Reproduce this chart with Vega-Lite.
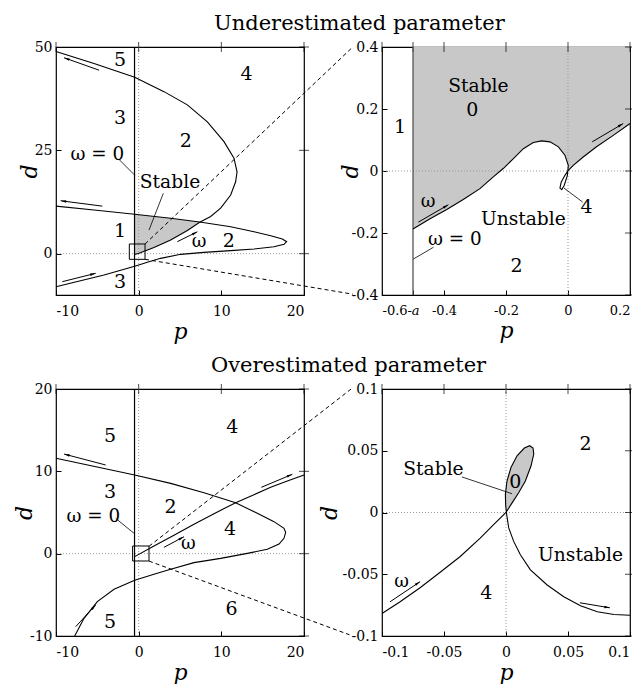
{
 "$schema": "https://vega.github.io/schema/vega-lite/v6.json",
 "background": "white",
 "padding": {"left": 12, "top": 12, "right": 0, "bottom": 0},
 "config": {
  "font": "DejaVu Serif",
  "view": {"stroke": "black", "strokeWidth": 1.2},
  "axis": {"domain": false, "grid": false, "ticks": true, "tickSize": -5, "tickColor": "black", "tickWidth": 1,
           "labelFont": "DejaVu Serif", "labelFontSize": 14, "labelColor": "black", "labelOverlap": false, "labelBound": false,
           "titleFont": "DejaVu Serif", "titleFontStyle": "italic", "titleFontWeight": "normal", "titleFontSize": 22, "titleColor": "black"},
  "axisX": {"labelPadding": 14, "titlePadding": 3},
  "axisY": {"labelPadding": 9, "titlePadding": -7},
  "tick": {"thickness": 1, "size": 10, "color": "black", "clip": true},
  "title": {"font": "DejaVu Serif", "fontSize": 21, "fontWeight": "normal", "color": "black"}
 },
 "datasets": {
  "zero": [{"v": 0}],
  "wz": [{"v": -0.5}],
  "kx1": [{"v": -10}, {"v": 0}, {"v": 10}, {"v": 20}],
  "ky1": [{"v": 0}, {"v": 25}, {"v": 50}],
  "kx2": [{"v": -0.6}, {"v": -0.5}, {"v": -0.4}, {"v": -0.2}, {"v": 0}, {"v": 0.2}],
  "ky2": [{"v": -0.4}, {"v": -0.2}, {"v": 0}, {"v": 0.2}, {"v": 0.4}],
  "ky3": [{"v": -10}, {"v": 0}, {"v": 10}, {"v": 20}],
  "k4": [{"v": -0.1}, {"v": -0.05}, {"v": 0}, {"v": 0.05}, {"v": 0.1}],
  "c1": [
   {"k":"A","i":0,"p":-0.5,"d":-0.2},{"k":"A","i":1,"p":0.04,"d":0.08},{"k":"A","i":2,"p":1.85,"d":1.5},{"k":"A","i":3,"p":3.87,"d":3.3},{"k":"A","i":4,"p":5.89,"d":5.6},{"k":"A","i":5,"p":7.38,"d":7.6},{"k":"A","i":6,"p":8.71,"d":9.0},{"k":"A","i":7,"p":9.92,"d":11.0},{"k":"A","i":8,"p":11.13,"d":14.2},{"k":"A","i":9,"p":11.73,"d":17.4},{"k":"A","i":10,"p":11.9,"d":19.8},{"k":"A","i":11,"p":11.53,"d":23.1},{"k":"A","i":12,"p":10.32,"d":27.1},{"k":"A","i":13,"p":8.31,"d":31.9},{"k":"A","i":14,"p":5.89,"d":36.0},{"k":"A","i":15,"p":3.06,"d":39.2},{"k":"A","i":16,"p":-0.48,"d":42.7},{"k":"A","i":17,"p":-5.4,"d":46.0},{"k":"A","i":18,"p":-10,"d":48.9},
   {"k":"B","i":0,"p":-10,"d":11.5},{"k":"B","i":1,"p":-5.4,"d":10.56},{"k":"B","i":2,"p":-0.48,"d":9.52},{"k":"B","i":3,"p":3.87,"d":8.55},{"k":"B","i":4,"p":7.38,"d":7.66},{"k":"B","i":5,"p":11.13,"d":6.53},{"k":"B","i":6,"p":13.95,"d":5.32},{"k":"B","i":7,"p":15.97,"d":4.35},{"k":"B","i":8,"p":17.38,"d":3.55},{"k":"B","i":9,"p":17.9,"d":2.9},{"k":"B","i":10,"p":17.58,"d":2.26},{"k":"B","i":11,"p":16.37,"d":1.69},{"k":"B","i":12,"p":13.95,"d":1.13},{"k":"B","i":13,"p":11.13,"d":0.73},{"k":"B","i":14,"p":7.9,"d":0.32},{"k":"B","i":15,"p":5.08,"d":-0.16},{"k":"B","i":16,"p":2.66,"d":-1.13},{"k":"B","i":17,"p":1.05,"d":-2.1},{"k":"B","i":18,"p":-0.48,"d":-3.06},{"k":"B","i":19,"p":-4.19,"d":-5.16},{"k":"B","i":20,"p":-10,"d":-8.0}
  ],
  "sh1": [{"p":-0.5,"d":-0.2,"d2":9.52},{"p":0.04,"d":0.08,"d2":9.40},{"p":1.85,"d":1.5,"d2":8.99},{"p":3.87,"d":3.3,"d2":8.55},{"p":5.89,"d":5.6,"d2":8.04},{"p":7.38,"d":7.6,"d2":7.66}],
  "dash1": [{"k":"u","p":0.77,"d":2.34},{"k":"u","p":25.9,"d":50},{"k":"l","p":0.77,"d":-1.37},{"k":"l","p":25.9,"d":-9.8}],
  "sq1": [{"p":-1.13,"p2":0.77,"d":-1.37,"d2":2.34}],
  "ar1": [{"id":1,"p":-4.8,"d":44.4,"p2":-9.03,"d2":47.4},{"id":2,"p":-4.4,"d":11.5,"p2":-9.44,"d2":12.8},{"id":3,"p":-9.23,"d":-6.77,"p2":-5.2,"d2":-4.76},{"id":4,"p":4.68,"d":2.9,"p2":7.1,"d2":5.3}],
  "ld1": [{"p":-2.38,"d":22.8,"p2":-0.48,"d2":19.0},{"p":2.98,"d":14.6,"p2":1.25,"d2":5.7}],
  "tx1": [{"t":"5","kind":"num","p":-2.26,"d":46.9},{"t":"4","kind":"num","p":13.06,"d":43.4},{"t":"3","kind":"num","p":-2.26,"d":32.9},{"t":"2","kind":"num","p":5.69,"d":27.3},{"t":"ω = 0","kind":"small","p":-5.0,"d":23.9},{"t":"Stable","kind":"word","p":3.79,"d":17.4},{"t":"1","kind":"num","p":-2.26,"d":5.5},{"t":"ω","kind":"omega","p":7.3,"d":2.9},{"t":"2","kind":"num","p":10.9,"d":3.06},{"t":"3","kind":"num","p":-2.26,"d":-6.9}],
  "c2": [
   {"i":0,"p":-0.5,"d":-0.187},{"i":1,"p":-0.445,"d":-0.154},{"i":2,"p":-0.391,"d":-0.124},{"i":3,"p":-0.338,"d":-0.092},{"i":4,"p":-0.284,"d":-0.057},{"i":5,"p":-0.241,"d":-0.019},{"i":6,"p":-0.209,"d":0.008},{"i":7,"p":-0.176,"d":0.040},{"i":8,"p":-0.144,"d":0.072},{"i":9,"p":-0.112,"d":0.092},{"i":10,"p":-0.085,"d":0.097},{"i":11,"p":-0.058,"d":0.094},{"i":12,"p":-0.031,"d":0.078},{"i":13,"p":-0.010,"d":0.051},{"i":14,"p":0.001,"d":0.018},{"i":15,"p":-0.002,"d":-0.014},{"i":16,"p":-0.012,"d":-0.046},{"i":17,"p":-0.020,"d":-0.060},{"i":18,"p":-0.026,"d":-0.055},{"i":19,"p":-0.022,"d":-0.036},{"i":20,"p":-0.010,"d":-0.014},{"i":21,"p":0.001,"d":0.002},{"i":22,"p":0.017,"d":0.018},{"i":23,"p":0.049,"d":0.045},{"i":24,"p":0.092,"d":0.078},{"i":25,"p":0.146,"d":0.115},{"i":26,"p":0.2,"d":0.153}
  ],
  "sh2": [{"p":-0.5,"d":-0.187},{"p":-0.445,"d":-0.154},{"p":-0.391,"d":-0.124},{"p":-0.338,"d":-0.092},{"p":-0.284,"d":-0.057},{"p":-0.241,"d":-0.019},{"p":-0.209,"d":0.008},{"p":-0.176,"d":0.040},{"p":-0.144,"d":0.072},{"p":-0.112,"d":0.092},{"p":-0.085,"d":0.097},{"p":-0.058,"d":0.094},{"p":-0.031,"d":0.078},{"p":-0.010,"d":0.051},{"p":0.001,"d":0.018},{"p":0.002,"d":0.003},{"p":0.017,"d":0.018},{"p":0.049,"d":0.045},{"p":0.092,"d":0.078},{"p":0.146,"d":0.115},{"p":0.2,"d":0.153}],
  "ar2": [{"id":1,"p":-0.483,"d":-0.165,"p2":-0.386,"d2":-0.109},{"id":2,"p":0.078,"d":0.094,"p2":0.178,"d2":0.153}],
  "ld2": [{"p":-0.013,"d":-0.055,"p2":0.047,"d2":-0.100},{"p":-0.499,"d":-0.284,"p2":-0.434,"d2":-0.246}],
  "tx2": [{"t":"Stable","kind":"word","p":-0.289,"d":0.275},{"t":"0","kind":"num","p":-0.309,"d":0.196},{"t":"1","kind":"num","p":-0.542,"d":0.142},{"t":"ω","kind":"omega","p":-0.451,"d":-0.100},{"t":"Unstable","kind":"word","p":-0.144,"d":-0.154},{"t":"4","kind":"num","p":0.060,"d":-0.116},{"t":"ω = 0","kind":"small","p":-0.365,"d":-0.224},{"t":"2","kind":"num","p":-0.166,"d":-0.307}],
  "c3": [
   {"k":"C","i":0,"p":-10,"d":11.58},{"k":"C","i":1,"p":-0.48,"d":9.55},{"k":"C","i":2,"p":3.87,"d":8.54},{"k":"C","i":3,"p":7.9,"d":7.41},{"k":"C","i":4,"p":11.73,"d":6.19},{"k":"C","i":5,"p":14.35,"d":4.9},{"k":"C","i":6,"p":16.37,"d":3.89},{"k":"C","i":7,"p":17.58,"d":3.08},{"k":"C","i":8,"p":17.78,"d":2.59},{"k":"C","i":9,"p":17.58,"d":1.86},{"k":"C","i":10,"p":16.98,"d":1.17},{"k":"C","i":11,"p":15.56,"d":0.53},{"k":"C","i":12,"p":13.15,"d":0.04},{"k":"C","i":13,"p":9.92,"d":-0.57},{"k":"C","i":14,"p":6.69,"d":-1.09},{"k":"C","i":15,"p":3.87,"d":-1.9},{"k":"C","i":16,"p":1.85,"d":-2.5},{"k":"C","i":17,"p":-0.48,"d":-3.24},{"k":"C","i":18,"p":-2.98,"d":-4.33},{"k":"C","i":19,"p":-5.0,"d":-5.83},{"k":"C","i":20,"p":-6.61,"d":-7.85},{"k":"C","i":21,"p":-7.74,"d":-10.0},
   {"k":"D","i":0,"p":-0.48,"d":-0.36},{"k":"D","i":1,"p":1.85,"d":0.93},{"k":"D","i":2,"p":4.27,"d":2.23},{"k":"D","i":3,"p":6.69,"d":3.56},{"k":"D","i":4,"p":9.11,"d":4.86},{"k":"D","i":5,"p":11.73,"d":6.19},{"k":"D","i":6,"p":13.95,"d":7.17},{"k":"D","i":7,"p":15.97,"d":8.06},{"k":"D","i":8,"p":17.98,"d":8.83},{"k":"D","i":9,"p":20,"d":9.55}
  ],
  "dash3": [{"k":"u","p":1.25,"d":0.9},{"k":"u","p":25.7,"d":20},{"k":"l","p":1.25,"d":-0.9},{"k":"l","p":25.5,"d":-9.85}],
  "sq3": [{"p":-0.73,"p2":1.25,"d":-0.89,"d2":0.93}],
  "ar3": [{"id":1,"p":-3.99,"d":10.77,"p2":-9.03,"d2":12.1},{"id":2,"p":14.84,"d":8.06,"p2":18.59,"d2":9.64},{"id":3,"p":-7.62,"d":-8.87,"p2":-5.2,"d2":-6.23},{"id":4,"p":3.06,"d":0.77,"p2":5.48,"d2":2.06}],
  "ld3": [{"p":-2.78,"d":4.29,"p2":-0.56,"d2":2.47}],
  "tx3": [{"t":"5","kind":"num","p":-3.47,"d":14.3},{"t":"4","kind":"num","p":11.33,"d":15.34},{"t":"3","kind":"num","p":-3.47,"d":7.53},{"t":"2","kind":"num","p":3.87,"d":5.63},{"t":"ω = 0","kind":"small","p":-5.48,"d":4.49},{"t":"4","kind":"num","p":11.05,"d":2.96},{"t":"ω","kind":"omega","p":6.0,"d":1.17},{"t":"6","kind":"num","p":11.25,"d":-6.76},{"t":"5","kind":"num","p":-3.47,"d":-8.26}],
  "c4": [
   {"i":0,"p":-0.1,"d":-0.0818},{"i":1,"p":-0.0854,"d":-0.0723},{"i":2,"p":-0.0693,"d":-0.0609},{"i":3,"p":-0.0531,"d":-0.0484},{"i":4,"p":-0.0369,"d":-0.0356},{"i":5,"p":-0.0208,"d":-0.0207},{"i":6,"p":-0.01,"d":-0.0098},{"i":7,"p":0,"d":0},{"i":8,"p":0.0049,"d":0.0078},{"i":9,"p":0.0102,"d":0.016},{"i":10,"p":0.0156,"d":0.0255},{"i":11,"p":0.0202,"d":0.0378},{"i":12,"p":0.0224,"d":0.0473},{"i":13,"p":0.0218,"d":0.0522},{"i":14,"p":0.0191,"d":0.0541},{"i":15,"p":0.0148,"d":0.0522},{"i":16,"p":0.0089,"d":0.0459},{"i":17,"p":0.004,"d":0.0364},{"i":18,"p":0.0008,"d":0.0255},{"i":19,"p":-0.0005,"d":0.0147},{"i":20,"p":-0.0003,"d":0.0065},{"i":21,"p":0.0003,"d":0},{"i":22,"p":0.0022,"d":-0.0125},{"i":23,"p":0.0062,"d":-0.0234},{"i":24,"p":0.0116,"d":-0.0342},{"i":25,"p":0.0197,"d":-0.0465},{"i":26,"p":0.0332,"d":-0.0587},{"i":27,"p":0.0466,"d":-0.0682},{"i":28,"p":0.0601,"d":-0.0755},{"i":29,"p":0.0736,"d":-0.0804},{"i":30,"p":0.0871,"d":-0.0826},{"i":31,"p":0.1,"d":-0.0832}
  ],
  "sh4": [{"d":0,"p":0,"p2":0},{"d":0.0065,"p":-0.0003,"p2":0.004},{"d":0.0147,"p":-0.0005,"p2":0.0095},{"d":0.0255,"p":0.0008,"p2":0.0156},{"d":0.0364,"p":0.004,"p2":0.0198},{"d":0.0459,"p":0.0089,"p2":0.0222},{"d":0.0522,"p":0.0148,"p2":0.0218},{"d":0.0541,"p":0.0191,"p2":0.0191}],
  "ar4": [{"id":1,"p":-0.0935,"d":-0.0723,"p2":-0.0693,"d2":-0.056},{"id":2,"p":0.0596,"d":-0.0731,"p2":0.0838,"d2":-0.0772}],
  "ld4": [{"p":-0.0356,"d":0.0288,"p2":0.0049,"d2":0.0152}],
  "tx4": [{"t":"2","kind":"num","p":0.0641,"d":0.0554},{"t":"Stable","kind":"word","p":-0.0585,"d":0.0351},{"t":"0","kind":"num","p":0.0075,"d":0.025},{"t":"Unstable","kind":"word","p":0.0601,"d":-0.0342},{"t":"4","kind":"num","p":-0.0159,"d":-0.0655},{"t":"ω","kind":"omega","p":-0.0841,"d":-0.0565}]
 },
 "bounds": "flush",
 "columns": 2,
 "spacing": {"row": 94, "column": 78},
 "concat": [
   {"width": 248, "height": 248,
    "title": {"text": "Underestimated parameter", "anchor": "start", "frame": "group", "dx": 158, "offset": -11, "baseline": "alphabetic"},
    "layer": [
     {"data": {"name": "sh1"}, "mark": {"type": "area", "color": "#c8c8c8"},
      "encoding": {"x": {"field": "p", "type": "quantitative", "scale": {"domain": [-10, 20], "nice": false, "zero": false}, "axis": {"values": [-10, 0, 10, 20], "title": "p", "labelExpr": "toString(datum.value)"}},
                   "y": {"field": "d", "type": "quantitative", "scale": {"domain": [-10, 50], "nice": false, "zero": false}, "axis": {"values": [0, 25, 50], "title": "d", "labelExpr": "toString(datum.value)"}},
                   "y2": {"field": "d2"}}},
     {"data": {"name": "zero"}, "mark": {"type": "rule", "color": "#999999", "strokeDash": [1, 2], "strokeWidth": 1}, "encoding": {"x": {"field": "v", "type": "quantitative", "scale": {"domain": [-10, 20], "nice": false, "zero": false}}}},
     {"data": {"name": "zero"}, "mark": {"type": "rule", "color": "#999999", "strokeDash": [1, 2], "strokeWidth": 1}, "encoding": {"y": {"field": "v", "type": "quantitative", "scale": {"domain": [-10, 50], "nice": false, "zero": false}}}},
     {"data": {"name": "kx1"}, "mark": {"type": "tick", "orient": "vertical"}, "encoding": {"x": {"field": "v", "type": "quantitative", "scale": {"domain": [-10, 20], "nice": false, "zero": false}}, "y": {"datum": 50, "type": "quantitative", "scale": {"domain": [-10, 50], "nice": false, "zero": false}}}},
     {"data": {"name": "ky1"}, "mark": {"type": "tick", "orient": "horizontal"}, "encoding": {"y": {"field": "v", "type": "quantitative", "scale": {"domain": [-10, 50], "nice": false, "zero": false}}, "x": {"datum": 20, "type": "quantitative", "scale": {"domain": [-10, 20], "nice": false, "zero": false}}}},
     {"data": {"name": "wz"}, "mark": {"type": "rule", "color": "black", "strokeWidth": 1.2}, "encoding": {"x": {"field": "v", "type": "quantitative", "scale": {"domain": [-10, 20], "nice": false, "zero": false}}}},
     {"data": {"name": "c1"}, "mark": {"type": "line", "color": "black", "strokeWidth": 1.1},
      "encoding": {"x": {"field": "p", "type": "quantitative", "scale": {"domain": [-10, 20], "nice": false, "zero": false}}, "y": {"field": "d", "type": "quantitative", "scale": {"domain": [-10, 50], "nice": false, "zero": false}}, "detail": {"field": "k"}, "order": {"field": "i", "type": "quantitative"}}},
     {"data": {"name": "dash1"}, "mark": {"type": "line", "color": "black", "strokeWidth": 1, "strokeDash": [4, 3], "clip": false},
      "encoding": {"x": {"field": "p", "type": "quantitative", "scale": {"domain": [-10, 20], "nice": false, "zero": false}}, "y": {"field": "d", "type": "quantitative", "scale": {"domain": [-10, 50], "nice": false, "zero": false}}, "detail": {"field": "k"}}},
     {"data": {"name": "sq1"}, "mark": {"type": "rect", "fill": null, "fillOpacity": 0, "stroke": "black", "strokeWidth": 1},
      "encoding": {"x": {"field": "p", "type": "quantitative", "scale": {"domain": [-10, 20], "nice": false, "zero": false}}, "x2": {"field": "p2"}, "y": {"field": "d", "type": "quantitative", "scale": {"domain": [-10, 50], "nice": false, "zero": false}}, "y2": {"field": "d2"}}},
     {"data": {"name": "ar1"}, "mark": {"type": "rule", "color": "black", "strokeWidth": 1},
      "encoding": {"x": {"field": "p", "type": "quantitative", "scale": {"domain": [-10, 20], "nice": false, "zero": false}}, "x2": {"field": "p2"}, "y": {"field": "d", "type": "quantitative", "scale": {"domain": [-10, 50], "nice": false, "zero": false}}, "y2": {"field": "d2"}}},
     {"data": {"name": "ld1"}, "mark": {"type": "rule", "color": "black", "strokeWidth": 0.8},
      "encoding": {"x": {"field": "p", "type": "quantitative", "scale": {"domain": [-10, 20], "nice": false, "zero": false}}, "x2": {"field": "p2"}, "y": {"field": "d", "type": "quantitative", "scale": {"domain": [-10, 50], "nice": false, "zero": false}}, "y2": {"field": "d2"}}},
     {"data": {"name": "ar1"}, "transform": [{"filter": "datum.id == 1"}], "mark": {"type": "point", "shape": "M0,0L0.35,1.6L-0.35,1.6Z", "filled": true, "color": "black", "opacity": 1, "size": 49, "angle": -70.6},
      "encoding": {"x": {"field": "p2", "type": "quantitative", "scale": {"domain": [-10, 20], "nice": false, "zero": false}}, "y": {"field": "d2", "type": "quantitative", "scale": {"domain": [-10, 50], "nice": false, "zero": false}}}},
     {"data": {"name": "ar1"}, "transform": [{"filter": "datum.id == 2"}], "mark": {"type": "point", "shape": "M0,0L0.35,1.6L-0.35,1.6Z", "filled": true, "color": "black", "opacity": 1, "size": 49, "angle": -82.7},
      "encoding": {"x": {"field": "p2", "type": "quantitative", "scale": {"domain": [-10, 20], "nice": false, "zero": false}}, "y": {"field": "d2", "type": "quantitative", "scale": {"domain": [-10, 50], "nice": false, "zero": false}}}},
     {"data": {"name": "ar1"}, "transform": [{"filter": "datum.id == 3"}], "mark": {"type": "point", "shape": "M0,0L0.35,1.6L-0.35,1.6Z", "filled": true, "color": "black", "opacity": 1, "size": 49, "angle": 76},
      "encoding": {"x": {"field": "p2", "type": "quantitative", "scale": {"domain": [-10, 20], "nice": false, "zero": false}}, "y": {"field": "d2", "type": "quantitative", "scale": {"domain": [-10, 50], "nice": false, "zero": false}}}},
     {"data": {"name": "ar1"}, "transform": [{"filter": "datum.id == 4"}], "mark": {"type": "point", "shape": "M0,0L0.35,1.6L-0.35,1.6Z", "filled": true, "color": "black", "opacity": 1, "size": 49, "angle": 61.9},
      "encoding": {"x": {"field": "p2", "type": "quantitative", "scale": {"domain": [-10, 20], "nice": false, "zero": false}}, "y": {"field": "d2", "type": "quantitative", "scale": {"domain": [-10, 50], "nice": false, "zero": false}}}},
     {"data": {"name": "tx1"}, "mark": {"type": "text", "color": "black", "align": "center", "baseline": "middle"},
      "encoding": {"x": {"field": "p", "type": "quantitative", "scale": {"domain": [-10, 20], "nice": false, "zero": false}}, "y": {"field": "d", "type": "quantitative", "scale": {"domain": [-10, 50], "nice": false, "zero": false}}, "text": {"field": "t"},
                   "size": {"field": "kind", "type": "nominal", "scale": {"domain": ["num", "word", "small", "omega"], "range": [19, 18, 15, 17]}, "legend": null}}}
    ]},
   {"width": 248, "height": 248,
    "layer": [
     {"data": {"name": "sh2"}, "mark": {"type": "area", "color": "#c8c8c8"},
      "encoding": {"x": {"field": "p", "type": "quantitative", "scale": {"domain": [-0.6, 0.2], "nice": false, "zero": false}, "axis": {"values": [-0.6, -0.5, -0.4, -0.2, 0, 0.2], "title": "p", "labelFontSize": 13, "labelExpr": "datum.value == -0.5 ? '-a' : toString(datum.value)", "labelFontStyle": {"condition": {"test": "datum.value == -0.5", "value": "italic"}, "value": "normal"}}},
                   "y": {"field": "d", "type": "quantitative", "scale": {"domain": [-0.4, 0.4], "nice": false, "zero": false}, "axis": {"values": [-0.4, -0.2, 0, 0.2, 0.4], "title": "d", "titlePadding": -11, "labelExpr": "toString(datum.value)"}},
                   "y2": {"datum": 0.4}}},
     {"data": {"name": "zero"}, "mark": {"type": "rule", "color": "#999999", "strokeDash": [1, 2], "strokeWidth": 1}, "encoding": {"x": {"field": "v", "type": "quantitative", "scale": {"domain": [-0.6, 0.2], "nice": false, "zero": false}}}},
     {"data": {"name": "zero"}, "mark": {"type": "rule", "color": "#999999", "strokeDash": [1, 2], "strokeWidth": 1}, "encoding": {"y": {"field": "v", "type": "quantitative", "scale": {"domain": [-0.4, 0.4], "nice": false, "zero": false}}}},
     {"data": {"name": "kx2"}, "mark": {"type": "tick", "orient": "vertical"}, "encoding": {"x": {"field": "v", "type": "quantitative", "scale": {"domain": [-0.6, 0.2], "nice": false, "zero": false}}, "y": {"datum": 0.4, "type": "quantitative", "scale": {"domain": [-0.4, 0.4], "nice": false, "zero": false}}}},
     {"data": {"name": "ky2"}, "mark": {"type": "tick", "orient": "horizontal"}, "encoding": {"y": {"field": "v", "type": "quantitative", "scale": {"domain": [-0.4, 0.4], "nice": false, "zero": false}}, "x": {"datum": 0.2, "type": "quantitative", "scale": {"domain": [-0.6, 0.2], "nice": false, "zero": false}}}},
     {"data": {"name": "wz"}, "mark": {"type": "rule", "color": "#555555", "strokeWidth": 1.3}, "encoding": {"x": {"field": "v", "type": "quantitative", "scale": {"domain": [-0.6, 0.2], "nice": false, "zero": false}}}},
     {"data": {"name": "c2"}, "mark": {"type": "line", "color": "black", "strokeWidth": 1.1},
      "encoding": {"x": {"field": "p", "type": "quantitative", "scale": {"domain": [-0.6, 0.2], "nice": false, "zero": false}}, "y": {"field": "d", "type": "quantitative", "scale": {"domain": [-0.4, 0.4], "nice": false, "zero": false}}, "order": {"field": "i", "type": "quantitative"}}},
     {"data": {"name": "ar2"}, "mark": {"type": "rule", "color": "black", "strokeWidth": 1},
      "encoding": {"x": {"field": "p", "type": "quantitative", "scale": {"domain": [-0.6, 0.2], "nice": false, "zero": false}}, "x2": {"field": "p2"}, "y": {"field": "d", "type": "quantitative", "scale": {"domain": [-0.4, 0.4], "nice": false, "zero": false}}, "y2": {"field": "d2"}}},
     {"data": {"name": "ld2"}, "mark": {"type": "rule", "color": "black", "strokeWidth": 0.8},
      "encoding": {"x": {"field": "p", "type": "quantitative", "scale": {"domain": [-0.6, 0.2], "nice": false, "zero": false}}, "x2": {"field": "p2"}, "y": {"field": "d", "type": "quantitative", "scale": {"domain": [-0.4, 0.4], "nice": false, "zero": false}}, "y2": {"field": "d2"}}},
     {"data": {"name": "ar2"}, "transform": [{"filter": "datum.id == 1"}], "mark": {"type": "point", "shape": "M0,0L0.35,1.6L-0.35,1.6Z", "filled": true, "color": "black", "opacity": 1, "size": 49, "angle": 60},
      "encoding": {"x": {"field": "p2", "type": "quantitative", "scale": {"domain": [-0.6, 0.2], "nice": false, "zero": false}}, "y": {"field": "d2", "type": "quantitative", "scale": {"domain": [-0.4, 0.4], "nice": false, "zero": false}}}},
     {"data": {"name": "ar2"}, "transform": [{"filter": "datum.id == 2"}], "mark": {"type": "point", "shape": "M0,0L0.35,1.6L-0.35,1.6Z", "filled": true, "color": "black", "opacity": 1, "size": 49, "angle": 59.4},
      "encoding": {"x": {"field": "p2", "type": "quantitative", "scale": {"domain": [-0.6, 0.2], "nice": false, "zero": false}}, "y": {"field": "d2", "type": "quantitative", "scale": {"domain": [-0.4, 0.4], "nice": false, "zero": false}}}},
     {"data": {"name": "tx2"}, "mark": {"type": "text", "color": "black", "align": "center", "baseline": "middle"},
      "encoding": {"x": {"field": "p", "type": "quantitative", "scale": {"domain": [-0.6, 0.2], "nice": false, "zero": false}}, "y": {"field": "d", "type": "quantitative", "scale": {"domain": [-0.4, 0.4], "nice": false, "zero": false}}, "text": {"field": "t"},
                   "size": {"field": "kind", "type": "nominal", "scale": {"domain": ["num", "word", "small", "omega"], "range": [19, 18, 15, 17]}, "legend": null}}}
    ]},
   {"width": 248, "height": 247,
    "title": {"text": "Overestimated parameter", "anchor": "start", "frame": "group", "dx": 155, "offset": -11, "baseline": "alphabetic"},
    "layer": [
     {"data": {"name": "zero"}, "mark": {"type": "rule", "color": "#999999", "strokeDash": [1, 2], "strokeWidth": 1},
      "encoding": {"x": {"field": "v", "type": "quantitative", "scale": {"domain": [-10, 20], "nice": false, "zero": false}, "axis": {"values": [-10, 0, 10, 20], "title": "p", "labelExpr": "toString(datum.value)"}}}},
     {"data": {"name": "zero"}, "mark": {"type": "rule", "color": "#999999", "strokeDash": [1, 2], "strokeWidth": 1},
      "encoding": {"y": {"field": "v", "type": "quantitative", "scale": {"domain": [-10, 20], "nice": false, "zero": false}, "axis": {"values": [-10, 0, 10, 20], "title": "d", "labelExpr": "toString(datum.value)"}}}},
     {"data": {"name": "kx1"}, "mark": {"type": "tick", "orient": "vertical"}, "encoding": {"x": {"field": "v", "type": "quantitative", "scale": {"domain": [-10, 20], "nice": false, "zero": false}}, "y": {"datum": 20, "type": "quantitative", "scale": {"domain": [-10, 20], "nice": false, "zero": false}}}},
     {"data": {"name": "ky3"}, "mark": {"type": "tick", "orient": "horizontal"}, "encoding": {"y": {"field": "v", "type": "quantitative", "scale": {"domain": [-10, 20], "nice": false, "zero": false}}, "x": {"datum": 20, "type": "quantitative", "scale": {"domain": [-10, 20], "nice": false, "zero": false}}}},
     {"data": {"name": "wz"}, "mark": {"type": "rule", "color": "black", "strokeWidth": 1.2}, "encoding": {"x": {"field": "v", "type": "quantitative", "scale": {"domain": [-10, 20], "nice": false, "zero": false}}}},
     {"data": {"name": "c3"}, "mark": {"type": "line", "color": "black", "strokeWidth": 1.1},
      "encoding": {"x": {"field": "p", "type": "quantitative", "scale": {"domain": [-10, 20], "nice": false, "zero": false}}, "y": {"field": "d", "type": "quantitative", "scale": {"domain": [-10, 20], "nice": false, "zero": false}}, "detail": {"field": "k"}, "order": {"field": "i", "type": "quantitative"}}},
     {"data": {"name": "dash3"}, "mark": {"type": "line", "color": "black", "strokeWidth": 1, "strokeDash": [4, 3], "clip": false},
      "encoding": {"x": {"field": "p", "type": "quantitative", "scale": {"domain": [-10, 20], "nice": false, "zero": false}}, "y": {"field": "d", "type": "quantitative", "scale": {"domain": [-10, 20], "nice": false, "zero": false}}, "detail": {"field": "k"}}},
     {"data": {"name": "sq3"}, "mark": {"type": "rect", "fill": null, "fillOpacity": 0, "stroke": "black", "strokeWidth": 1},
      "encoding": {"x": {"field": "p", "type": "quantitative", "scale": {"domain": [-10, 20], "nice": false, "zero": false}}, "x2": {"field": "p2"}, "y": {"field": "d", "type": "quantitative", "scale": {"domain": [-10, 20], "nice": false, "zero": false}}, "y2": {"field": "d2"}}},
     {"data": {"name": "ar3"}, "mark": {"type": "rule", "color": "black", "strokeWidth": 1},
      "encoding": {"x": {"field": "p", "type": "quantitative", "scale": {"domain": [-10, 20], "nice": false, "zero": false}}, "x2": {"field": "p2"}, "y": {"field": "d", "type": "quantitative", "scale": {"domain": [-10, 20], "nice": false, "zero": false}}, "y2": {"field": "d2"}}},
     {"data": {"name": "ld3"}, "mark": {"type": "rule", "color": "black", "strokeWidth": 0.8},
      "encoding": {"x": {"field": "p", "type": "quantitative", "scale": {"domain": [-10, 20], "nice": false, "zero": false}}, "x2": {"field": "p2"}, "y": {"field": "d", "type": "quantitative", "scale": {"domain": [-10, 20], "nice": false, "zero": false}}, "y2": {"field": "d2"}}},
     {"data": {"name": "ar3"}, "transform": [{"filter": "datum.id == 1"}], "mark": {"type": "point", "shape": "M0,0L0.35,1.6L-0.35,1.6Z", "filled": true, "color": "black", "opacity": 1, "size": 49, "angle": -75.2},
      "encoding": {"x": {"field": "p2", "type": "quantitative", "scale": {"domain": [-10, 20], "nice": false, "zero": false}}, "y": {"field": "d2", "type": "quantitative", "scale": {"domain": [-10, 20], "nice": false, "zero": false}}}},
     {"data": {"name": "ar3"}, "transform": [{"filter": "datum.id == 2"}], "mark": {"type": "point", "shape": "M0,0L0.35,1.6L-0.35,1.6Z", "filled": true, "color": "black", "opacity": 1, "size": 49, "angle": 67.2},
      "encoding": {"x": {"field": "p2", "type": "quantitative", "scale": {"domain": [-10, 20], "nice": false, "zero": false}}, "y": {"field": "d2", "type": "quantitative", "scale": {"domain": [-10, 20], "nice": false, "zero": false}}}},
     {"data": {"name": "ar3"}, "transform": [{"filter": "datum.id == 3"}], "mark": {"type": "point", "shape": "M0,0L0.35,1.6L-0.35,1.6Z", "filled": true, "color": "black", "opacity": 1, "size": 49, "angle": 42.7},
      "encoding": {"x": {"field": "p2", "type": "quantitative", "scale": {"domain": [-10, 20], "nice": false, "zero": false}}, "y": {"field": "d2", "type": "quantitative", "scale": {"domain": [-10, 20], "nice": false, "zero": false}}}},
     {"data": {"name": "ar3"}, "transform": [{"filter": "datum.id == 4"}], "mark": {"type": "point", "shape": "M0,0L0.35,1.6L-0.35,1.6Z", "filled": true, "color": "black", "opacity": 1, "size": 49, "angle": 61.9},
      "encoding": {"x": {"field": "p2", "type": "quantitative", "scale": {"domain": [-10, 20], "nice": false, "zero": false}}, "y": {"field": "d2", "type": "quantitative", "scale": {"domain": [-10, 20], "nice": false, "zero": false}}}},
     {"data": {"name": "tx3"}, "mark": {"type": "text", "color": "black", "align": "center", "baseline": "middle"},
      "encoding": {"x": {"field": "p", "type": "quantitative", "scale": {"domain": [-10, 20], "nice": false, "zero": false}}, "y": {"field": "d", "type": "quantitative", "scale": {"domain": [-10, 20], "nice": false, "zero": false}}, "text": {"field": "t"},
                   "size": {"field": "kind", "type": "nominal", "scale": {"domain": ["num", "word", "small", "omega"], "range": [19, 18, 15, 17]}, "legend": null}}}
    ]},
   {"width": 248, "height": 247,
    "layer": [
     {"data": {"name": "sh4"}, "mark": {"type": "area", "color": "#c8c8c8", "orient": "horizontal"},
      "encoding": {"y": {"field": "d", "type": "quantitative", "scale": {"domain": [-0.1, 0.1], "nice": false, "zero": false}, "axis": {"values": [-0.1, -0.05, 0, 0.05, 0.1], "title": "d", "titlePadding": 1, "labelExpr": "toString(datum.value)"}},
                   "x": {"field": "p", "type": "quantitative", "scale": {"domain": [-0.1, 0.1], "nice": false, "zero": false}, "axis": {"values": [-0.1, -0.05, 0, 0.05, 0.1], "title": "p", "labelExpr": "toString(datum.value)"}},
                   "x2": {"field": "p2"}}},
     {"data": {"name": "zero"}, "mark": {"type": "rule", "color": "#999999", "strokeDash": [1, 2], "strokeWidth": 1}, "encoding": {"x": {"field": "v", "type": "quantitative", "scale": {"domain": [-0.1, 0.1], "nice": false, "zero": false}}}},
     {"data": {"name": "zero"}, "mark": {"type": "rule", "color": "#999999", "strokeDash": [1, 2], "strokeWidth": 1}, "encoding": {"y": {"field": "v", "type": "quantitative", "scale": {"domain": [-0.1, 0.1], "nice": false, "zero": false}}}},
     {"data": {"name": "k4"}, "mark": {"type": "tick", "orient": "vertical"}, "encoding": {"x": {"field": "v", "type": "quantitative", "scale": {"domain": [-0.1, 0.1], "nice": false, "zero": false}}, "y": {"datum": 0.1, "type": "quantitative", "scale": {"domain": [-0.1, 0.1], "nice": false, "zero": false}}}},
     {"data": {"name": "k4"}, "mark": {"type": "tick", "orient": "horizontal"}, "encoding": {"y": {"field": "v", "type": "quantitative", "scale": {"domain": [-0.1, 0.1], "nice": false, "zero": false}}, "x": {"datum": 0.1, "type": "quantitative", "scale": {"domain": [-0.1, 0.1], "nice": false, "zero": false}}}},
     {"data": {"name": "c4"}, "mark": {"type": "line", "color": "black", "strokeWidth": 1.1},
      "encoding": {"x": {"field": "p", "type": "quantitative", "scale": {"domain": [-0.1, 0.1], "nice": false, "zero": false}}, "y": {"field": "d", "type": "quantitative", "scale": {"domain": [-0.1, 0.1], "nice": false, "zero": false}}, "order": {"field": "i", "type": "quantitative"}}},
     {"data": {"name": "ar4"}, "mark": {"type": "rule", "color": "black", "strokeWidth": 1},
      "encoding": {"x": {"field": "p", "type": "quantitative", "scale": {"domain": [-0.1, 0.1], "nice": false, "zero": false}}, "x2": {"field": "p2"}, "y": {"field": "d", "type": "quantitative", "scale": {"domain": [-0.1, 0.1], "nice": false, "zero": false}}, "y2": {"field": "d2"}}},
     {"data": {"name": "ld4"}, "mark": {"type": "rule", "color": "black", "strokeWidth": 0.8},
      "encoding": {"x": {"field": "p", "type": "quantitative", "scale": {"domain": [-0.1, 0.1], "nice": false, "zero": false}}, "x2": {"field": "p2"}, "y": {"field": "d", "type": "quantitative", "scale": {"domain": [-0.1, 0.1], "nice": false, "zero": false}}, "y2": {"field": "d2"}}},
     {"data": {"name": "ar4"}, "transform": [{"filter": "datum.id == 1"}], "mark": {"type": "point", "shape": "M0,0L0.35,1.6L-0.35,1.6Z", "filled": true, "color": "black", "opacity": 1, "size": 49, "angle": 56.3},
      "encoding": {"x": {"field": "p2", "type": "quantitative", "scale": {"domain": [-0.1, 0.1], "nice": false, "zero": false}}, "y": {"field": "d2", "type": "quantitative", "scale": {"domain": [-0.1, 0.1], "nice": false, "zero": false}}}},
     {"data": {"name": "ar4"}, "transform": [{"filter": "datum.id == 2"}], "mark": {"type": "point", "shape": "M0,0L0.35,1.6L-0.35,1.6Z", "filled": true, "color": "black", "opacity": 1, "size": 49, "angle": 99.5},
      "encoding": {"x": {"field": "p2", "type": "quantitative", "scale": {"domain": [-0.1, 0.1], "nice": false, "zero": false}}, "y": {"field": "d2", "type": "quantitative", "scale": {"domain": [-0.1, 0.1], "nice": false, "zero": false}}}},
     {"data": {"name": "tx4"}, "mark": {"type": "text", "color": "black", "align": "center", "baseline": "middle"},
      "encoding": {"x": {"field": "p", "type": "quantitative", "scale": {"domain": [-0.1, 0.1], "nice": false, "zero": false}}, "y": {"field": "d", "type": "quantitative", "scale": {"domain": [-0.1, 0.1], "nice": false, "zero": false}}, "text": {"field": "t"},
                   "size": {"field": "kind", "type": "nominal", "scale": {"domain": ["num", "word", "small", "omega"], "range": [19, 18, 15, 17]}, "legend": null}}}
    ]}
 ]
}
